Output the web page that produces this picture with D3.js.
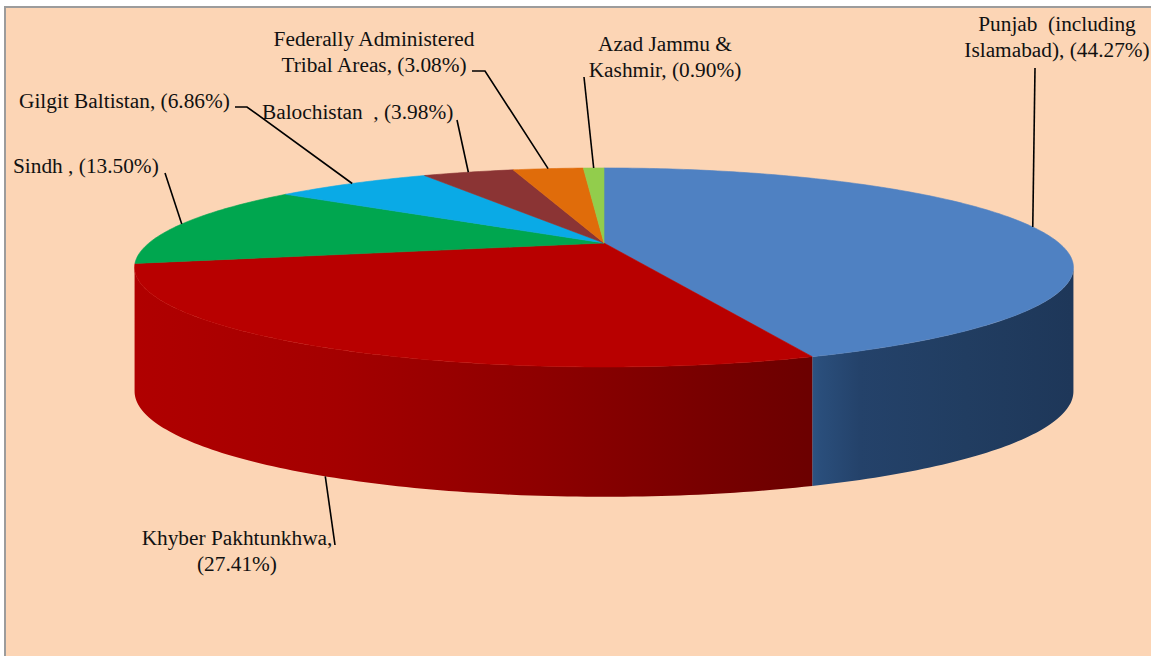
<!DOCTYPE html>
<html>
<head>
<meta charset="utf-8">
<script src="https://cdn.jsdelivr.net/npm/d3@7"></script>
<style>
html,body{margin:0;padding:0;background:#fff;}
svg{display:block;}
text{fill:#111;white-space:pre;}
</style>
</head>
<body>
<svg id="chart" width="1151" height="656"></svg>
<script>
// ---- data ----
const categories = ["Punjab  (including Islamabad)", "Khyber Pakhtunkhwa", "Sindh ", "Gilgit Baltistan", "Balochistan  ", "Federally Administered Tribal Areas", "Azad Jammu & Kashmir"];
const shares = [44.27, 27.41, 13.50, 6.86, 3.98, 3.08, 0.90];
const labelLines = [
  ["Punjab  (including", "Islamabad), (44.27%)"],
  ["Khyber Pakhtunkhwa,", "(27.41%)"],
  ["Sindh , (13.50%)"],
  ["Gilgit Baltistan, (6.86%)"],
  ["Balochistan  , (3.98%)"],
  ["Federally Administered", "Tribal Areas, (3.08%)"],
  ["Azad Jammu &", "Kashmir, (0.90%)"]
];
const topColors = ["#4F81C2", "#B80000", "#00A64F", "#0AAAE6", "#8B3434", "#E06C0A", "#92CD4C"];

// ---- layout ----
const W = 1151, H = 656;
const cx = 604, cy = 243;
const A = 455, B = 93.5;
const p = 0.246;
const H0 = 122, q = 0.06;
const FAM = '"Liberation Serif"';

const svg = d3.select("#chart");
svg.append("rect").attr("x", 0).attr("y", 0).attr("width", W).attr("height", H).attr("fill", "#ffffff");
svg.append("rect").attr("x", 5).attr("y", 7).attr("width", W + 20).attr("height", H + 20)
  .attr("fill", "#FCD5B5").attr("stroke", "#9C9C9C").attr("stroke-width", 2);

// measure font to size labels
const probe = svg.append("text").style("font-family", FAM).style("font-size", "20px")
  .attr("x", 20).attr("y", 640).attr("fill-opacity", 0).text("Gilgit Baltistan, (6.86%)");
const pw = probe.node().getComputedTextLength();
const fontSize = (pw > 50) ? Math.min(23, Math.max(15, 20 * 211 / pw)) : 21;

function proj(theta, r) {
  const X = r * Math.sin(theta), Y = -r * Math.cos(theta);
  const s = 1 - p * Y;
  return [cx + A * X / s, cy + B * Y / s, Y];
}
function depth(Y) { return H0 / (1 - q * Y); }
function bottom(theta) {
  const t = proj(theta, 1);
  return [t[0], t[1] + depth(t[2])];
}

const pie = d3.pie().sort(null).value(d => d).startAngle(0).endAngle(2 * Math.PI);
const arcs = pie(shares);

const defs = svg.append("defs");
const sideGrad = [
  {id: "g0", x1: 807, x2: 1072, stops: [[0, "#2E5686"], [0.05, "#2A4E7B"], [0.2, "#24426A"], [0.6, "#213D61"], [1, "#1E3759"]]},
  {id: "g1", x1: 135, x2: 807, stops: [[0, "#B00000"], [0.3, "#A40000"], [0.6, "#8E0000"], [0.85, "#780000"], [1, "#6C0000"]]}
];
sideGrad.forEach(g => {
  const lg = defs.append("linearGradient").attr("id", g.id).attr("gradientUnits", "userSpaceOnUse")
    .attr("x1", g.x1).attr("x2", g.x2).attr("y1", 0).attr("y2", 0);
  g.stops.forEach(s => lg.append("stop").attr("offset", s[0]).attr("stop-color", s[1]));
});

const tVis0 = Math.acos(-p), tVis1 = 2 * Math.PI - Math.acos(-p);
const N = 200;
const line = d3.line();

const sides = svg.append("g");
arcs.forEach((a, i) => {
  const lo = Math.max(a.startAngle, tVis0), hi = Math.min(a.endAngle, tVis1);
  if (hi <= lo) return;
  const pts = [];
  const n = Math.max(2, Math.ceil(N * (hi - lo) / Math.PI));
  for (let k = 0; k <= n; k++) { const t = lo + (hi - lo) * k / n; const pp = proj(t, 1); pts.push([pp[0], pp[1]]); }
  for (let k = n; k >= 0; k--) { const t = lo + (hi - lo) * k / n; pts.push(bottom(t)); }
  sides.append("path").attr("d", line(pts) + "Z")
    .attr("fill", i < 2 ? `url(#g${i})` : d3.color(topColors[i]).darker(1.2));
});

const tops = svg.append("g");
arcs.forEach((a, i) => {
  const pts = [[cx, cy]];
  const n = Math.max(2, Math.ceil(N * (a.endAngle - a.startAngle) / Math.PI));
  for (let k = 0; k <= n; k++) { const t = a.startAngle + (a.endAngle - a.startAngle) * k / n; const pp = proj(t, 1); pts.push([pp[0], pp[1]]); }
  tops.append("path").attr("d", line(pts) + "Z").attr("fill", topColors[i])
    .attr("stroke", topColors[i]).attr("stroke-width", 0.6).attr("stroke-linejoin", "round");
});

const labelLayout = [
  {x: 1057, y: 31, anchor: "middle", lead: [[1035, 68]], bottomAnchor: false},
  {x: 237, y: 545, anchor: "middle", lead: [[335, 545]], bottomAnchor: true},
  {x: 13, y: 173, anchor: "start", lead: [[165, 173]], bottomAnchor: false},
  {x: 19, y: 108, anchor: "start", lead: [[235, 107], [247, 107]], bottomAnchor: false},
  {x: 262, y: 119, anchor: "start", lead: [[457, 120]], bottomAnchor: false},
  {x: 374, y: 46, anchor: "middle", lead: [[472, 71], [485, 71]], bottomAnchor: false},
  {x: 665, y: 51, anchor: "middle", lead: [[584, 77]], bottomAnchor: false}
];
const lineH = 25.5;
const labels = svg.append("g");
arcs.forEach((a, i) => {
  const L = labelLayout[i];
  const mid = (a.startAngle + a.endAngle) / 2;
  const anc = L.bottomAnchor ? bottom(mid) : proj(mid, 1).slice(0, 2);
  const pts = L.lead.concat([anc]);
  labels.append("path").attr("d", line(pts)).attr("fill", "none").attr("stroke", "#000").attr("stroke-width", 1.6);
  const t = labels.append("text").attr("text-anchor", L.anchor)
    .style("font-family", FAM).style("font-size", fontSize + "px");
  labelLines[i].forEach((s, j) => {
    t.append("tspan").attr("x", L.x).attr("y", L.y + j * lineH).text(s);
  });
  t.node().getComputedTextLength();
});
</script>
</body>
</html>
